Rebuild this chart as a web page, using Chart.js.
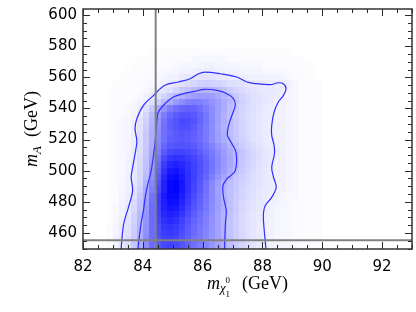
<!DOCTYPE html>
<html>
<head>
<meta charset="utf-8">
<script src="https://cdn.jsdelivr.net/npm/chart.js@4"></script>
<style>
  html, body { margin: 0; padding: 0; background: #fff; }
</style>
</head>
<body>
<canvas id="c" width="416" height="312"></canvas>
<script>
// axis ranges and labelled ticks
const xRange = [82, 93];
const yRange = [449.7, 603.9];
const xTicks = [82, 84, 86, 88, 90, 92];
const yTicks = [460, 480, 500, 520, 540, 560, 580, 600];

// histogram bins: first edge and width in GeV
const binX = [82.8, 0.2];
const binY = [450, 4];

// density, 0..99, one row per y bin, bottom row first (x bins 82.8 .. 90.0)
const density = [
  [2,5,9,14,22,33,45,58,66,72,74,72,68,62,56,52,48,42,36,31,26,21,17,14,11,9,8,6,5,4,3,3,2,2,1,1], // 450
  [2,5,9,14,21,32,45,58,68,74,75,73,68,62,56,52,47,41,36,31,25,20,16,13,10,8,7,5,4,3,3,2,2,1,1,1],
  [2,4,8,13,20,31,44,58,70,76,78,76,70,64,58,53,48,42,36,30,24,19,15,12,10,8,6,5,4,3,3,2,2,1,1,1],
  [2,4,8,12,19,29,43,58,71,78,80,78,72,65,59,54,49,43,36,30,24,19,15,12,10,8,6,5,4,3,3,2,2,1,1,1],
  [1,3,7,11,18,28,42,58,73,81,84,82,75,68,61,56,50,43,37,30,24,19,15,12,10,8,7,5,4,3,3,2,2,1,1,1],
  [1,3,6,10,17,27,41,58,75,84,88,86,79,71,64,58,51,44,37,30,24,19,15,12,10,8,7,5,4,3,3,2,2,1,1,1], // 470
  [1,3,5,9,15,25,40,58,76,87,92,90,83,74,67,60,53,45,38,31,25,20,16,13,11,9,7,6,4,3,3,2,2,1,1,1],
  [1,2,5,8,14,24,38,57,77,89,95,94,86,77,69,62,54,46,38,31,25,20,16,13,11,9,8,6,5,4,3,2,2,1,1,1],
  [1,2,4,7,12,21,35,55,76,90,97,97,89,79,71,63,55,46,38,30,25,20,17,14,12,10,8,7,5,4,3,3,2,2,1,1],
  [1,2,4,6,11,19,32,50,72,88,97,99,91,81,73,65,56,46,37,30,25,21,17,14,12,10,9,7,6,5,4,3,2,2,1,1],
  [1,2,3,6,10,17,29,47,69,87,97,99,92,82,74,66,57,47,38,31,26,21,18,15,13,11,9,8,6,5,4,3,2,2,1,1], // 490
  [1,2,3,5,9,16,27,44,66,84,94,96,90,82,75,68,60,51,42,35,29,23,19,16,13,11,9,8,6,5,4,3,2,2,1,1],
  [1,2,3,5,9,15,25,41,62,80,90,92,88,81,75,69,62,54,46,39,32,26,21,17,14,11,9,7,6,5,4,3,2,2,1,1],
  [1,2,3,5,9,15,24,39,59,76,85,87,85,80,75,69,62,55,47,40,34,28,22,18,15,12,10,8,6,5,4,3,2,2,1,1],
  [1,2,3,5,8,14,23,37,55,71,79,81,80,77,73,67,61,54,47,40,34,28,23,19,16,13,10,8,7,5,4,3,2,2,1,1],
  [1,2,3,4,8,13,22,35,51,65,72,74,74,72,69,64,58,52,45,39,33,28,23,19,16,13,10,8,7,5,4,3,2,2,1,1], // 510
  [1,2,3,4,7,13,21,33,48,60,66,68,68,67,65,60,55,49,42,36,30,25,20,17,14,11,9,7,6,5,4,3,2,2,1,1],
  [1,2,3,4,7,13,21,32,46,57,63,65,66,65,62,58,52,45,38,32,27,22,18,15,12,10,8,7,6,5,4,3,2,2,1,1],
  [1,2,3,4,7,13,21,32,45,56,62,65,67,66,63,58,52,45,38,31,26,21,17,14,12,10,8,7,6,5,4,3,2,2,1,1],
  [1,2,3,4,7,12,20,31,44,56,63,67,70,69,65,59,52,45,37,30,25,21,17,14,12,10,8,7,6,5,4,3,2,2,1,1],
  [1,2,3,4,6,11,18,29,42,55,63,68,72,71,67,61,54,46,38,31,25,21,17,14,12,10,8,7,6,5,4,3,2,2,1,1], // 530
  [1,1,2,3,5,9,16,27,39,51,59,64,68,68,65,60,53,45,38,31,25,20,16,14,12,10,8,7,6,5,4,3,2,2,1,1],
  [1,1,2,3,4,7,12,21,32,43,51,56,60,62,61,57,51,45,38,32,26,21,17,14,12,10,8,7,6,5,4,3,2,2,1,1],
  [1,1,2,2,3,5,8,13,20,27,33,40,45,49,51,50,47,43,38,33,28,22,18,15,12,11,10,8,6,5,4,3,2,2,1,1],
  [1,1,1,2,2,3,5,8,12,17,22,27,31,35,38,40,40,38,34,30,26,21,17,14,12,11,10,9,8,6,4,3,2,2,1,1],
  [1,1,1,1,2,2,3,5,7,10,13,17,21,24,27,29,30,29,27,24,20,17,14,12,11,10,9,9,8,7,5,3,2,2,1,1], // 550
  [0,1,1,1,1,2,2,3,4,6,8,10,12,14,16,18,19,18,17,15,13,12,11,10,9,9,8,8,8,7,5,3,2,1,1,1],
  [0,0,1,1,1,1,2,2,3,4,5,6,8,9,10,11,11,11,10,9,8,7,7,6,6,6,5,5,5,4,3,2,2,1,1,0],
  [0,0,0,1,1,1,1,2,2,3,3,4,5,5,6,7,7,7,6,6,5,5,4,4,4,4,3,3,3,3,2,2,1,1,1,0],
  [0,0,0,0,1,1,1,1,2,2,2,3,3,4,4,4,5,5,4,4,4,3,3,3,3,3,2,2,2,2,2,1,1,1,0,0],
  [0,0,0,0,0,1,1,1,1,1,2,2,2,2,3,3,3,3,3,3,2,2,2,2,2,2,2,1,1,1,1,1,1,0,0,0], // 570
  [0,0,0,0,0,0,0,1,1,1,1,1,1,1,1,2,2,2,2,2,1,1,1,1,1,1,1,1,1,1,1,0,0,0,0,0]
];

// contour lines
const outerX = [83.27, 83.36, 83.52, 83.66, 83.61, 83.66, 83.74, 83.8, 83.74, 83.8, 84.02, 84.36, 84.74, 85.19, 85.58, 85.86, 86.08, 86.59, 87.14, 87.48, 87.81, 88.26, 88.53, 88.7, 88.79, 88.7, 88.53, 88.39, 88.31, 88.31, 88.39, 88.4, 88.31, 88.37, 88.46, 88.31, 88.09, 88.03, 88.06, 88.12];
const outerY = [449, 465.8, 476.5, 487.2, 495.8, 502.2, 510.7, 519, 527, 533.4, 542, 548.4, 554.9, 557, 559.1, 562.3, 563.4, 562.3, 560.2, 557, 555.9, 555.3, 556.5, 555.9, 552.7, 548.4, 544.1, 537.7, 529.2, 522.7, 516.3, 510.7, 502.2, 495.8, 489.4, 482.9, 477.5, 471.1, 461.5, 449];
const innerX = [83.83, 83.94, 84.02, 84.08, 84.17, 84.28, 84.36, 84.41, 84.47, 84.52, 84.74, 85.02, 85.36, 85.74, 86.06, 86.48, 86.81, 87.03, 87.09, 86.98, 86.87, 86.83, 86.98, 87.12, 87.09, 86.81, 86.68, 86.7, 86.79, 86.76, 86.73];
const innerY = [449, 465.8, 474.3, 482.9, 491.5, 500, 510.3, 518.4, 532.4, 537.7, 543, 547.3, 549.5, 551, 552.3, 551.6, 549.5, 546.3, 542, 535.6, 529.2, 522.7, 517.3, 511.5, 500, 494.7, 490.4, 482.9, 474.3, 465.8, 449];

// reference lines
const cutX = 84.43;
const cutY = 455.3;

const toPts = (xs, ys) => xs.map((v, i) => ({ x: v, y: ys[i] }));

const heatmap = {
  id: 'heatmap',
  beforeDatasetsDraw(chart) {
    const { ctx, chartArea: a, scales: { x, y } } = chart;
    ctx.save();
    ctx.beginPath();
    ctx.rect(a.left, a.top, a.width, a.height);
    ctx.clip();
    density.forEach((row, j) => {
      const y0 = binY[0] + j * binY[1];
      const top = Math.round(y.getPixelForValue(y0 + binY[1]));
      const bot = Math.round(y.getPixelForValue(y0));
      row.forEach((v, i) => {
        if (!v) return;
        const x0 = binX[0] + i * binX[1];
        const l = Math.round(x.getPixelForValue(x0));
        const r = Math.round(x.getPixelForValue(x0 + binX[1]));
        const c = Math.round(255 * (1 - v / 100));
        ctx.fillStyle = `rgb(${c},${c},255)`;
        ctx.fillRect(l, top, r - l, bot - top);
      });
    });
    ctx.restore();
  }
};

function drawParts(ctx, parts) {
  let w = 0;
  parts.forEach(p => { ctx.font = p.font; p.w = p.t ? ctx.measureText(p.t).width : 0; });
  parts.forEach(p => { w += (p.adv === false ? 0 : p.w) + (p.gap || 0); });
  let cx = -w / 2;
  parts.forEach(p => {
    cx += p.gap || 0;
    if (p.t) {
      ctx.font = p.font;
      ctx.fillText(p.t, cx + (p.dx || 0), p.dy || 0);
    }
    if (p.adv !== false) cx += p.w;
  });
}

const frame = {
  id: 'frame',
  afterDraw(chart) {
    const { ctx, chartArea: a, scales: { x, y } } = chart;
    ctx.save();
    ctx.strokeStyle = '#2a2a2a';
    ctx.lineWidth = 1;
    ctx.beginPath();
    for (let v = xRange[0]; v <= xRange[1]; v += 0.5) {
      const px = Math.round(x.getPixelForValue(v)) + 0.5;
      const len = xTicks.includes(v) ? 7 : 4;
      ctx.moveTo(px, a.bottom); ctx.lineTo(px, a.bottom - len);
      ctx.moveTo(px, a.top); ctx.lineTo(px, a.top + len);
    }
    for (let v = 450; v <= 600; v += 5) {
      const py = Math.round(y.getPixelForValue(v)) + 0.5;
      const len = yTicks.includes(v) ? 7 : 4;
      ctx.moveTo(a.left, py); ctx.lineTo(a.left + len, py);
      ctx.moveTo(a.right, py); ctx.lineTo(a.right - len, py);
    }
    ctx.stroke();
    ctx.lineWidth = 1.5;
    ctx.strokeStyle = '#333';
    ctx.strokeRect(a.left, a.top, a.width, a.height);

    // axis titles
    ctx.fillStyle = '#000';
    ctx.textBaseline = 'alphabetic';
    const big = '18px "Liberation Serif"';
    const bigI = 'italic 18px "Liberation Serif"';
    ctx.save();
    ctx.translate((a.left + a.right) / 2, 289);
    drawParts(ctx, [
      { t: 'm', font: bigI },
      { t: 'χ', font: 'italic 13px "Liberation Serif"', dy: 3 },
      { t: '0', font: '9px "Liberation Serif"', dy: -6, adv: false },
      { t: '1', font: '9px "Liberation Serif"', dy: 8 },
      { t: '(GeV)', font: big, gap: 12 }
    ]);
    ctx.restore();
    ctx.save();
    ctx.translate(37, (a.top + a.bottom) / 2);
    ctx.rotate(-Math.PI / 2);
    drawParts(ctx, [
      { t: 'm', font: bigI },
      { t: 'A', font: 'italic 13px "Liberation Serif"', dy: 4 },
      { t: '(GeV)', font: big, gap: 9 }
    ]);
    ctx.restore();
    ctx.restore();
  }
};

const lineStyle = { showLine: true, pointRadius: 0, fill: false };

new Chart(document.getElementById('c'), {
  type: 'scatter',
  data: {
    datasets: [
      { ...lineStyle, data: toPts([cutX, cutX], yRange), borderColor: '#808080', borderWidth: 2 },
      { ...lineStyle, data: toPts(xRange, [cutY, cutY]), borderColor: '#808080', borderWidth: 2 },
      { ...lineStyle, data: toPts(outerX, outerY), borderColor: '#2e2eff', borderWidth: 1.2, tension: 0.35 },
      { ...lineStyle, data: toPts(innerX, innerY), borderColor: '#2e2eff', borderWidth: 1.2, tension: 0.35 }
    ]
  },
  options: {
    responsive: false,
    animation: false,
    events: [],
    layout: { padding: { top: 9, right: 4, left: 0, bottom: 0 } },
    plugins: { legend: { display: false }, tooltip: { enabled: false } },
    scales: {
      x: {
        type: 'linear', min: xRange[0], max: xRange[1],
        grid: { display: false, drawTicks: false },
        border: { display: false },
        ticks: { color: '#000', padding: 9, font: { family: 'DejaVu Sans', size: 15 } },
        afterBuildTicks: s => { s.ticks = xTicks.map(v => ({ value: v })); },
        afterFit: s => { s.height = 63; s.paddingLeft = 0; s.paddingRight = 0; }
      },
      y: {
        type: 'linear', min: yRange[0], max: yRange[1],
        grid: { display: false, drawTicks: false },
        border: { display: false },
        ticks: { color: '#000', padding: 6, font: { family: 'DejaVu Sans', size: 15 } },
        afterBuildTicks: s => { s.ticks = yTicks.map(v => ({ value: v })); },
        afterFit: s => { s.width = 83; s.paddingTop = 0; s.paddingBottom = 0; }
      }
    }
  },
  plugins: [heatmap, frame]
});
</script>
</body>
</html>
